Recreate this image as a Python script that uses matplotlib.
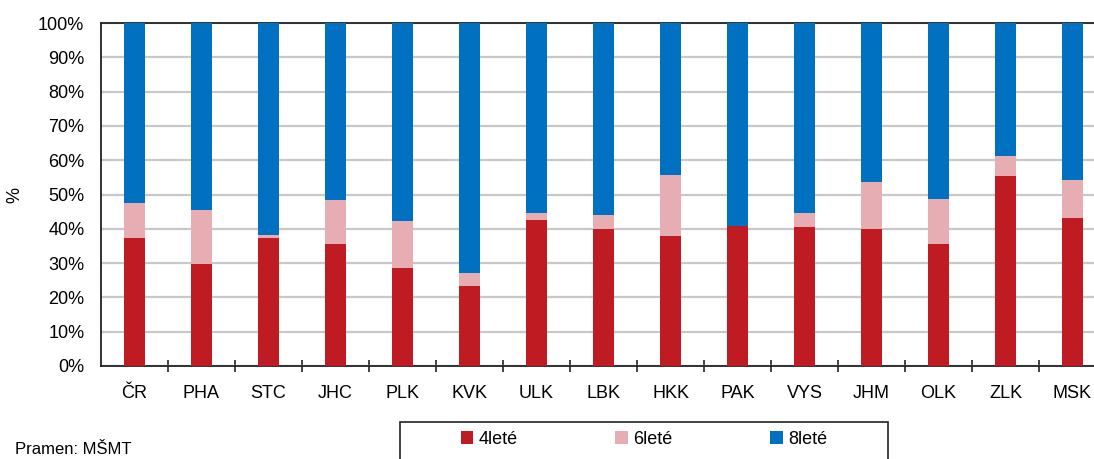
import numpy as np
import matplotlib

matplotlib.use("Agg")
import matplotlib.pyplot as plt
from matplotlib.patches import Rectangle

plt.rcParams["font.family"] = ["Liberation Sans", "DejaVu Sans"]

regions = ["ČR", "PHA", "STC", "JHC", "PLK", "KVK", "ULK", "LBK",
           "HKK", "PAK", "VYS", "JHM", "OLK", "ZLK", "MSK"]
# shares in %
four_year = [37.2, 29.7, 37.2, 35.5, 28.6, 23.3, 42.5, 39.8,
             37.8, 40.9, 40.4, 39.8, 35.5, 55.3, 43.1]
six_year = [10.2, 15.9, 1.0, 12.8, 13.8, 3.7, 2.2, 4.3,
            18.0, 0.0, 4.3, 13.9, 13.3, 5.9, 11.2]
eight_year = [100 - a - b for a, b in zip(four_year, six_year)]
series_labels = ["4leté", "6leté", "8leté"]
y_ticks = np.arange(0, 101, 10)

COLORS = ["#BE1B22", "#E6AEB2", "#0070C0"]

W, H = 1094, 459
fig = plt.figure(figsize=(W / 100, H / 100), dpi=100)
ax = fig.add_axes([101 / W, 1 - 366 / H, 1005 / W, 343 / H])

x = np.arange(len(regions))
bottom = np.zeros(len(regions))
handles = []
for vals, col, lab in zip([four_year, six_year, eight_year], COLORS, series_labels):
    b = ax.bar(x, vals, 0.31, bottom=bottom, color=col, label=lab, zorder=3)
    handles.append(b)
    bottom += np.array(vals)

ax.set_xlim(-0.5, len(regions) - 0.5)
ax.set_ylim(0, 100)
ax.set_yticks(y_ticks, [f"{v}%" for v in y_ticks])
ax.set_xticks(x, regions)
ax.set_xticks(np.arange(0.5, len(regions) - 1, 1), minor=True)
ax.tick_params(axis="x", which="major", length=0, pad=14, labelsize=13)
ax.tick_params(axis="x", which="minor", length=9, width=1.2, direction="inout",
               color="#222222")
ax.tick_params(axis="y", length=0, pad=12, labelsize=13)
ax.grid(axis="y", color="#c8c8c8", linewidth=1.6, zorder=0)
for side in ["left", "bottom", "top"]:
    ax.spines[side].set_color("#222222")
    ax.spines[side].set_linewidth(1.3)
ax.spines["right"].set_visible(False)

fig.text(15 / W, 1 - 195 / H, "%", rotation=90, fontsize=13, va="center", ha="center")
fig.text(15 / W, 1 - 457 / H, "Pramen: MŠMT", fontsize=12, va="bottom", ha="left")

fig.patches.append(Rectangle((400 / W, -0.05), 488 / W, 1 - 422 / H + 0.05,
                             transform=fig.transFigure, fill=False,
                             edgecolor="#222222", linewidth=1.2))
fig.legend(handles=handles, loc="center", bbox_to_anchor=(644 / W, 1 - 439 / H),
           ncol=3, frameon=False, fontsize=13, handlelength=0.7, handleheight=0.7,
           handletextpad=0.3, columnspacing=5.4)

fig.savefig("out.png", dpi=100)
